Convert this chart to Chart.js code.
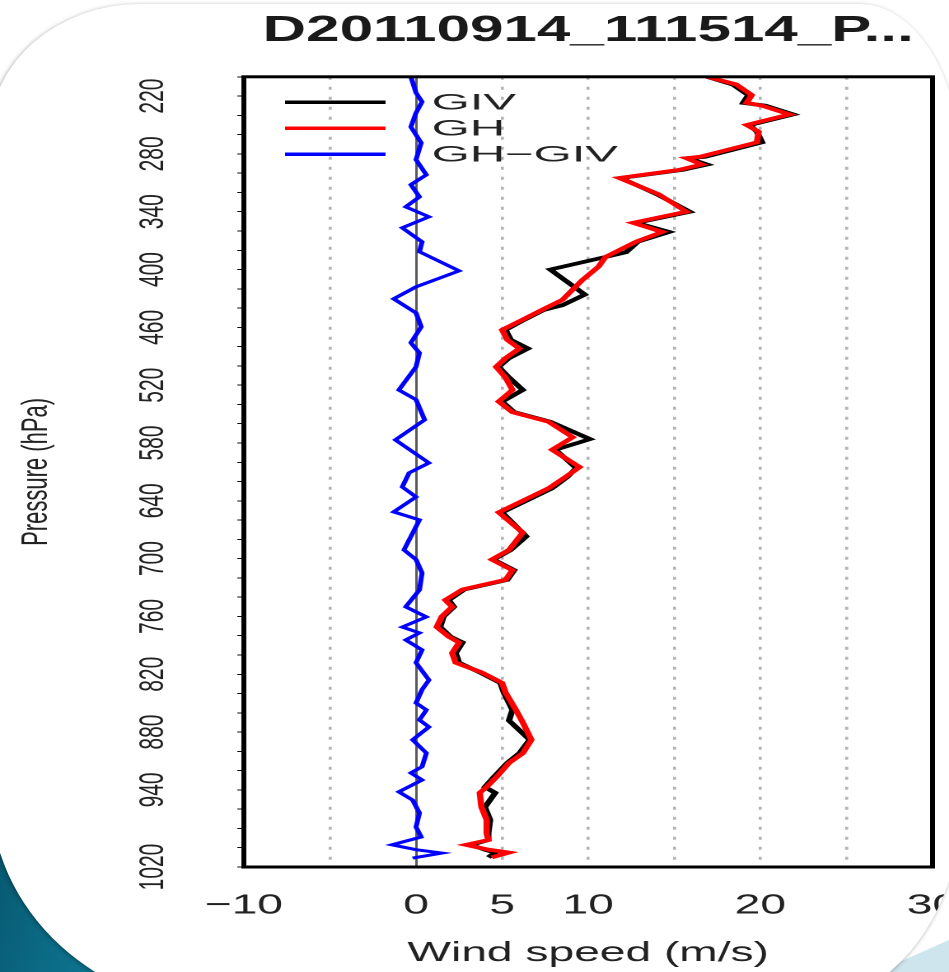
<!DOCTYPE html>
<html>
<head>
<meta charset="utf-8">
<script src="https://cdn.jsdelivr.net/npm/chart.js@4.4.1/dist/chart.umd.min.js"></script>
<style>
    html, body { margin: 0; padding: 0; }
    body { width: 949px; height: 972px; overflow: hidden; position: relative; background: #fff; }
    #teal { position: absolute; left: 0; top: 700px; width: 300px; height: 272px;
        background: linear-gradient(105deg, #064f66 0%, #0b6a85 30%, #1487a4 70%, #3aa3bd 100%); }
    #pale { position: absolute; left: 877px; top: 972px; width: 200px; height: 120px;
        background: #cfe5ed; transform: rotate(-24deg); transform-origin: 0 0; }
    #card { position: absolute; left: -10px; top: 4px; width: 970px; height: 1006px; background: #fff;
        border-radius: 150px 100px 170px 240px / 130px 160px 200px 220px;
        box-shadow: -1px 1px 4px rgba(0, 0, 0, 0.35); overflow: hidden; }
    #plot { position: absolute; left: 10px; top: -4px; width: 576px; height: 972px;
        transform: scaleX(1.6476); transform-origin: 0 0; }
</style>
</head>
<body>
<div id="teal"></div>
<div id="pale"></div>
<div id="card">
    <div id="plot"><canvas id="profile" width="576" height="972"></canvas></div>
</div>
<script>
// GH (red) wind speed profile
const ghPres = [200, 208, 219, 227, 230, 239, 250, 257, 268, 283, 284.5, 291, 296.5, 305, 322, 340, 351.5, 361, 371, 387,
    397, 411, 431.5, 442, 452, 462.6, 473, 482, 492, 501, 512, 525, 537, 548, 558, 574, 587, 605, 615, 627,
    652, 673, 691, 701, 712, 722, 732, 743, 750, 760, 771, 781, 787, 798, 808, 818, 829, 839, 857, 870,
    888, 902, 912, 927, 937, 943, 958, 971, 985, 992, 997, 1002, 1005, 1010];
const ghSpeed = [16.9, 18.6, 19.5, 19.2, 20.1, 21.7, 19.2, 19.9, 19.8, 16.5, 15.7, 16.6, 15.3, 11.8, 14.1, 15.7, 12.6, 14.3, 12.8, 11.0,
    10.6, 9.65, 8.5, 7.3, 6.2, 5.0, 5.3, 6.0, 5.2, 4.65, 5.2, 5.6, 4.8, 5.6, 7.7, 9.1, 7.9, 9.5, 8.7, 7.7,
    4.8, 6.2, 5.4, 4.4, 5.6, 5.2, 2.7, 1.7, 2.1, 1.5, 1.2, 1.9, 2.5, 2.1, 2.3, 3.8, 5.0, 5.2, 5.8, 6.2,
    6.7, 6.2, 5.4, 4.65, 4.1, 3.7, 3.8, 4.1, 4.1, 4.2, 2.9, 4.2, 5.4, 4.4];

// GIV (black) wind speed profile
const givPres = [200, 208, 219, 227, 230, 239, 250, 257, 268, 283, 284.5, 291, 296.5, 305, 322, 340, 351.5, 361, 371, 382,
    387, 400, 426, 437, 442, 452, 462.6, 473, 482, 492, 501, 512, 525, 537, 548, 558, 576, 587, 606, 615,
    627, 652, 677, 691, 701, 712, 722, 732, 743, 750, 760, 771, 781, 787, 798, 808, 818, 829, 839, 857,
    868, 888, 902, 912, 927, 937, 943, 958, 971, 985, 992, 997, 1002, 1005, 1010];
const givSpeed = [16.9, 18.4, 19.3, 19.0, 20.3, 21.9, 19.4, 19.8, 20.1, 16.8, 15.8, 16.9, 15.5, 11.9, 14.0, 15.9, 12.8, 14.7, 12.9, 12.2,
    11.0, 7.8, 9.8, 8.5, 7.4, 6.3, 5.2, 5.5, 6.5, 5.4, 4.8, 5.4, 6.2, 5.0, 5.7, 7.8, 10.1, 8.1, 9.3, 8.8,
    7.9, 5.0, 6.4, 5.5, 4.5, 5.7, 5.3, 2.8, 1.9, 2.2, 1.6, 1.4, 2.0, 2.7, 2.3, 2.5, 3.7, 4.9, 5.1, 5.6,
    5.4, 6.6, 6.0, 5.3, 4.5, 4.0, 4.6, 4.0, 4.3, 4.2, 4.2, 3.2, 4.0, 4.6, 4.2];

// GH-GIV (blue) difference profile
const diffPres = [200, 216.6, 226, 237.4, 252, 268.5, 286, 301.7, 312, 324.6, 335, 345.3, 356.7, 371.3, 381.6, 401.4, 418, 430.4, 445, 459.5,
    476, 486.5, 501, 525, 535, 556, 576.8, 600.7, 611, 625.6, 636, 651.5, 659.8, 680.6, 691, 701, 714.8, 732.5, 750, 760.5,
    771, 777, 784.4, 794.8, 808, 826, 836, 849.8, 857, 867.4, 874.7, 888, 901.7, 916, 922.4, 929.7, 942, 950.5, 964, 978.5,
    988.9, 997, 1002, 1005.5, 1010.7];
const diffSpeed = [-0.3, 0, 0.35, 0, -0.3, 0.3, 0, 0.6, -0.3, 0.2, -0.6, 0.75, -0.8, 0.35, 0.2, 2.5, 0, -1.3, 0, 0.3,
    -0.3, 0.2, 0, -1.0, 0, 0.5, -1.2, 0.75, -0.4, -0.8, 0, -1.3, 0.2, -0.4, -0.7, 0, 0.35, 0.2, -0.6, 0.6,
    -0.8, 0.2, -0.6, 0.35, 0, 0.75, 0.35, 0, 0.6, 0.2, 0.75, -0.2, 0.6, 0.35, -0.3, 0.35, -1.0, -0.2, 0.2, 0,
    0.3, -1.4, 0, 1.5, -0.2];

// axis ticks
const xTickValues = [-10, -5, 0, 5, 10, 15, 20, 25, 30];
const xLabelValues = [-10, 0, 5, 10, 20, 30];
const yTickValues = [];
for (let p = 200; p <= 1020; p += 20) yTickValues.push(p);
const yLabelValues = [220, 280, 340, 400, 460, 520, 580, 640, 700, 760, 820, 880, 940, 1020];

const seriesNames = ['GIV', 'GH', 'GH\u2212GIV'];
const seriesColors = ['#000000', '#ff0000', '#0000ff'];

function toPoints(speeds, pres) {
    return speeds.map((v, i) => ({ x: v, y: pres[i] }));
}

// draws the black box round the plot
const framePlugin = {
    id: 'frame',
    afterDatasetsDraw(chart) {
        const a = chart.chartArea, ctx = chart.ctx;
        ctx.save();
        ctx.strokeStyle = '#000';
        ctx.lineWidth = 3;
        ctx.strokeRect(a.left, a.top, a.right - a.left, a.bottom - a.top);
        ctx.restore();
    }
};

// legend sits inside the plot, top left
const insetLegend = {
    id: 'insetLegend',
    afterDatasetsDraw(chart) {
        const a = chart.chartArea, ctx = chart.ctx;
        ctx.save();
        chart.data.datasets.forEach((ds, i) => {
            const y = a.top + 25.5 + i * 26;
            ctx.strokeStyle = ds.borderColor;
            ctx.lineWidth = 3.5;
            ctx.beginPath();
            ctx.moveTo(a.left + 25, y);
            ctx.lineTo(a.left + 86, y);
            ctx.stroke();
            ctx.save();
            ctx.translate(a.left + 114, y);
            ctx.scale(1.35, 1);
            ctx.font = '22px "Liberation Sans", Arial, sans-serif';
            ctx.fillStyle = '#222';
            ctx.textBaseline = 'middle';
            ctx.fillText(ds.label, 0, 1);
            ctx.restore();
        });
        ctx.restore();
    }
};

// pressure labels are turned on their side
const yLabelPlugin = {
    id: 'yLabels',
    afterDraw(chart) {
        const s = chart.scales.y, ctx = chart.ctx;
        ctx.save();
        ctx.font = '21px "Liberation Sans", Arial, sans-serif';
        ctx.fillStyle = '#222';
        ctx.textAlign = 'center';
        ctx.textBaseline = 'middle';
        yLabelValues.forEach(v => {
            ctx.save();
            ctx.translate(93, s.getPixelForValue(v));
            ctx.rotate(-Math.PI / 2);
            ctx.fillText(String(v), 0, 0);
            ctx.restore();
        });
        ctx.restore();
    }
};

Chart.defaults.font.family = '"Liberation Sans", Arial, sans-serif';
Chart.defaults.color = '#222';

const ctx = document.getElementById('profile').getContext('2d');
const chart = new Chart(ctx, {
    type: 'scatter',
    data: {
        datasets: [
            { label: seriesNames[0], data: toPoints(givSpeed, givPres), borderColor: seriesColors[0], borderWidth: 3.8, order: 2 },
            { label: seriesNames[1], data: toPoints(ghSpeed, ghPres), borderColor: seriesColors[1], borderWidth: 3.8, order: 1 },
            { label: seriesNames[2], data: toPoints(diffSpeed, diffPres), borderColor: seriesColors[2], borderWidth: 3, order: 0 }
        ]
    },
    options: {
        responsive: false,
        animation: false,
        devicePixelRatio: 2,
        showLine: true,
        elements: { point: { radius: 0 }, line: { tension: 0, fill: false } },
        layout: { padding: { left: 0, right: 10, top: 0, bottom: 0 } },
        plugins: {
            legend: { display: false },
            tooltip: { enabled: false },
            title: {
                display: true,
                text: 'D20110914_111514_P...',
                fullSize: false,
                color: '#1a1a1a',
                font: { size: 36.5, weight: 'bold' },
                padding: { top: 9, bottom: 24 }
            }
        },
        scales: {
            x: {
                type: 'linear',
                min: -10,
                max: 30,
                afterBuildTicks: scale => { scale.ticks = xTickValues.map(v => ({ value: v })); },
                afterFit: scale => { scale.height = 105; scale.paddingLeft = 0; scale.paddingRight = 0; },
                ticks: {
                    autoSkip: false,
                    maxRotation: 0,
                    padding: 22,
                    font: { size: 28 },
                    color: '#222',
                    callback: v => xLabelValues.includes(v) ? String(v).replace('-', '\u2212') : ''
                },
                grid: {
                    drawTicks: false,
                    color: c => c.tick.value === 0 ? '#5a5a5a' : (c.tick.value === -10 || c.tick.value === 30 ? 'rgba(0,0,0,0)' : '#b3b3b3'),
                    lineWidth: c => c.tick.value === 0 ? 1.5 : 1.8
                },
                border: { display: false, dash: c => (c.tick && c.tick.value === 0) ? [] : [3, 7] },
                title: {
                    display: true,
                    text: 'Wind speed (m/s)',
                    color: '#222',
                    font: { size: 28 },
                    padding: { top: 0, bottom: 2 }
                }
            },
            y: {
                type: 'linear',
                reverse: true,
                min: 200,
                max: 1020,
                afterBuildTicks: scale => { scale.ticks = yTickValues.map(v => ({ value: v })); },
                afterFit: scale => { scale.width = 148; scale.paddingTop = 0; scale.paddingBottom = 0; },
                ticks: { display: false },
                grid: {
                    drawOnChartArea: false,
                    drawTicks: true,
                    tickLength: 4,
                    tickColor: '#111',
                    tickWidth: 1
                },
                border: { display: false },
                title: {
                    display: true,
                    text: 'Pressure (hPa)',
                    color: '#222',
                    font: { size: 22 },
                    padding: { top: 9, bottom: 0 }
                }
            }
        }
    },
    plugins: [framePlugin, insetLegend, yLabelPlugin]
});
</script>
</body>
</html>
